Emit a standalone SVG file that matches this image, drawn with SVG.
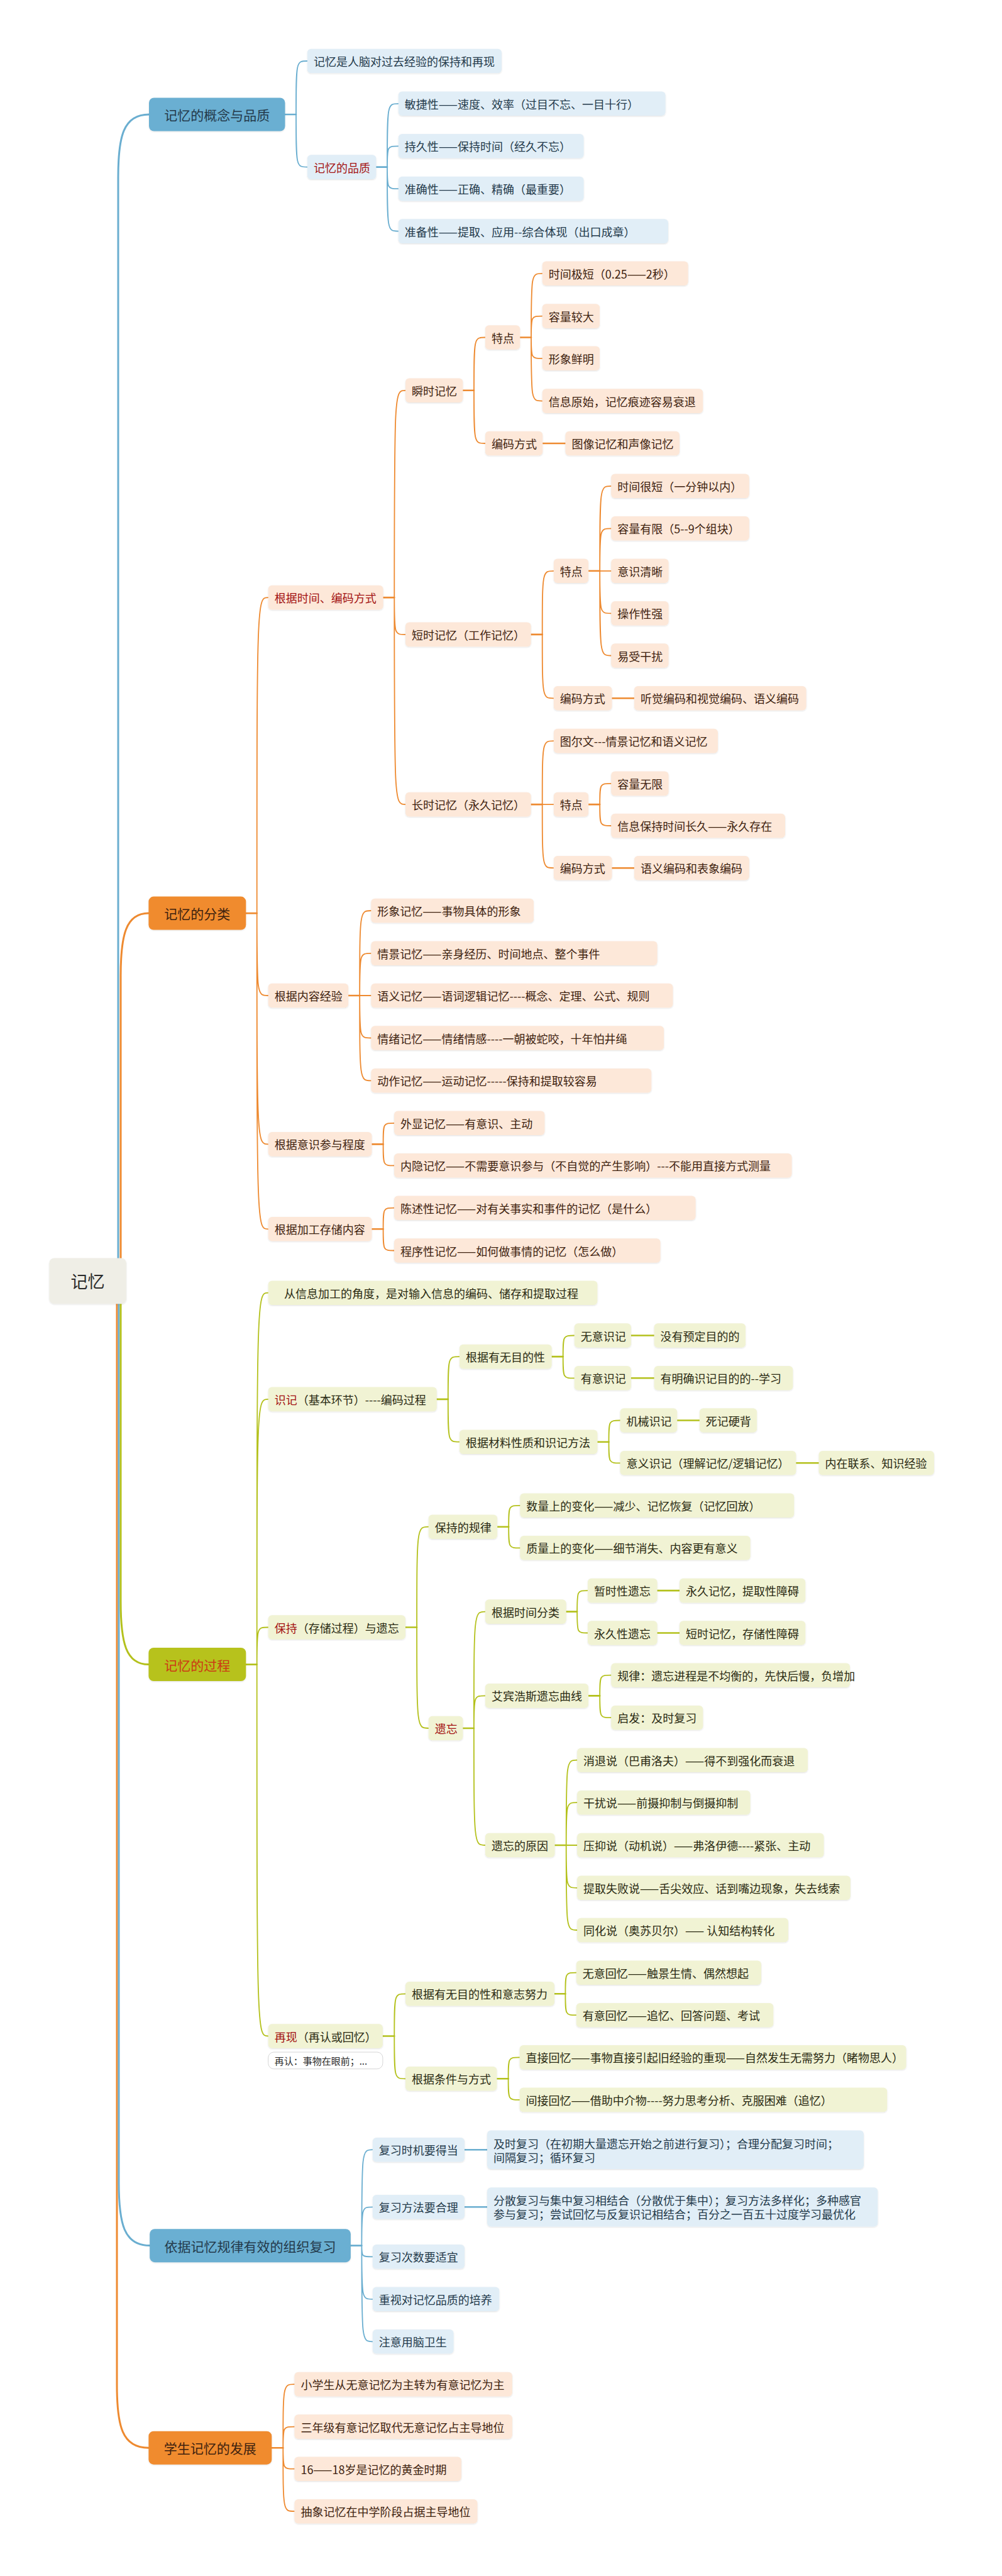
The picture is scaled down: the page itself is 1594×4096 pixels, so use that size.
<svg xmlns="http://www.w3.org/2000/svg" width="1594" height="4096" viewBox="0 0 1594 4096">
<defs>
<filter id="sh" x="-5%" y="-20%" width="110%" height="160%"><feDropShadow dx="0" dy="1" stdDeviation="0.8" flood-color="#000" flood-opacity="0.12"/></filter>
<style>
.t{font-family:"Noto Sans CJK SC","Noto Sans",sans-serif;font-size:18px;dominant-baseline:central}
.m{font-size:21px;text-anchor:middle}
.tb{fill:#243a4b}.to{fill:#3e220f}.tg{fill:#2a2a12}.red{fill:#a31212}
.fb,.fo,.fg,.mb,.mo,.mg,.rt{filter:url(#sh)}
.fb{fill:#e1eef7}.fo{fill:#fde8d9}.fg{fill:#f1f3d4}
.mb{fill:#6aafd2}.mo{fill:#f08b2e}.mg{fill:#b7c21e}.rt{fill:#efeee6}
path{fill:none;stroke-linecap:round}
.cb{stroke:#6aaed0}.co{stroke:#ee8a30}.cg{stroke:#b4c11c}
.s{stroke-width:2.6}.k{stroke-width:1.8}.r{stroke-width:3}
</style>
</defs>
<rect width="1594" height="4096" fill="#ffffff"/>
<g id="connectors">
<path class="cb r" d="M188 2037 L188 282 C188 217 196 182 237 182"/>
<path class="co r" d="M192 2037 L192 1552.1 C192 1487.1 200 1452.1 236.4 1452.1"/>
<path class="co r" d="M186 2037 L186 3792.2 C186 3857.2 194 3892.2 236.4 3892.2"/>
<path class="cb r" d="M189 2037 L189 3470.6 C189 3535.6 197 3570.6 238.2 3570.6"/>
<path class="cg r" d="M192 2037 L192 2546.6 C192 2611.6 200 2646.6 236.4 2646.6"/>
<path class="cb s" d="M453.5 182H471"/>
<path class="cb k" d="M471 182C471 97 471 97 488.9 97M471 182C471 265.6 471 265.6 488.9 265.6"/>
<path class="cb s" d="M598.4 265.6H616"/>
<path class="cb k" d="M616 265.6C616 164.8 616 164.8 633.8 164.8M616 265.6C616 232.3 616 232.3 633.8 232.3M616 265.6C616 300.1 616 300.1 633.8 300.1M616 265.6C616 367.6 616 367.6 633.8 367.6"/>
<path class="co s" d="M391.3 1452.1H408.7"/>
<path class="co k" d="M408.7 1452.1C408.7 950.1 408.7 950.1 426.7 950.1M408.7 1452.1C408.7 1583 408.7 1583 426.7 1583M408.7 1452.1C408.7 1819.4 408.7 1819.4 426.7 1819.4M408.7 1452.1C408.7 1954.3 408.7 1954.3 426.7 1954.3"/>
<path class="co s" d="M609.6 950.1H627.3"/>
<path class="co k" d="M627.3 950.1C627.3 620.8 627.3 620.8 645 620.8M627.3 950.1C627.3 1008.9 627.3 1008.9 645 1008.9M627.3 950.1C627.3 1279.1 627.3 1279.1 645 1279.1"/>
<path class="co s" d="M736.4 620.8H754"/>
<path class="co k" d="M754 620.8C754 536.5 754 536.5 771.9 536.5M754 620.8C754 705 754 705 771.9 705"/>
<path class="co s" d="M827.3 536.5H845"/>
<path class="co k" d="M845 536.5C845 434.8 845 434.8 862.7 434.8M845 536.5C845 502.6 845 502.6 862.7 502.6M845 536.5C845 569.8 845 569.8 862.7 569.8M845 536.5C845 637.6 845 637.6 862.7 637.6"/>
<path class="co s" d="M863.3 705H899.4"/>
<path class="co s" d="M844.7 1008.9H862.7"/>
<path class="co k" d="M862.7 1008.9C862.7 907.8 862.7 907.8 880.8 907.8M862.7 1008.9C862.7 1110.3 862.7 1110.3 880.8 1110.3"/>
<path class="co s" d="M936.2 907.8H954.2"/>
<path class="co k" d="M954.2 907.8C954.2 772.8 954.2 772.8 972.2 772.8M954.2 907.8C954.2 840.3 954.2 840.3 972.2 840.3M954.2 907.8H972.2M954.2 907.8C954.2 975.3 954.2 975.3 972.2 975.3M954.2 907.8C954.2 1042.5 954.2 1042.5 972.2 1042.5"/>
<path class="co s" d="M973.5 1110.3H1008.9"/>
<path class="co s" d="M844.7 1279.1H862.7"/>
<path class="co k" d="M862.7 1279.1C862.7 1178.1 862.7 1178.1 880.8 1178.1M862.7 1279.1H880.8M862.7 1279.1C862.7 1380.2 862.7 1380.2 880.8 1380.2"/>
<path class="co s" d="M936.2 1279.1H954.2"/>
<path class="co k" d="M954.2 1279.1C954.2 1245.9 954.2 1245.9 972.2 1245.9M954.2 1279.1C954.2 1313 954.2 1313 972.2 1313"/>
<path class="co s" d="M973.5 1380.2H1008.9"/>
<path class="co s" d="M554.2 1583H572.2"/>
<path class="co k" d="M572.2 1583C572.2 1448 572.2 1448 590.3 1448M572.2 1583C572.2 1515.8 572.2 1515.8 590.3 1515.8M572.2 1583H590.3M572.2 1583C572.2 1650.5 572.2 1650.5 590.3 1650.5M572.2 1583C572.2 1718.3 572.2 1718.3 590.3 1718.3"/>
<path class="co s" d="M591.5 1819.4H609.6"/>
<path class="co k" d="M609.6 1819.4C609.6 1785.8 609.6 1785.8 627 1785.8M609.6 1819.4C609.6 1853.3 609.6 1853.3 627 1853.3"/>
<path class="co s" d="M591.5 1954.3H609.6"/>
<path class="co k" d="M609.6 1954.3C609.6 1920.7 609.6 1920.7 627 1920.7M609.6 1954.3C609.6 1988.5 609.6 1988.5 627 1988.5"/>
<path class="cg s" d="M391.3 2646.6H408.7"/>
<path class="cg k" d="M408.7 2646.6C408.7 2055.7 408.7 2055.7 426.7 2055.7M408.7 2646.6C408.7 2224.9 408.7 2224.9 426.7 2224.9M408.7 2646.6C408.7 2587.5 408.7 2587.5 426.7 2587.5M408.7 2646.6C408.7 3237.5 408.7 3237.5 426.7 3237.5"/>
<path class="cg s" d="M694.8 2224.9H712.8"/>
<path class="cg k" d="M712.8 2224.9C712.8 2157.1 712.8 2157.1 730.9 2157.1M712.8 2224.9C712.8 2292.7 712.8 2292.7 730.9 2292.7"/>
<path class="cg s" d="M877.7 2157.1H895.7"/>
<path class="cg k" d="M895.7 2157.1C895.7 2123.5 895.7 2123.5 913.7 2123.5M895.7 2157.1C895.7 2191.3 895.7 2191.3 913.7 2191.3"/>
<path class="cg s" d="M1003.9 2123.5H1040.6M1003.9 2191.3H1040.6"/>
<path class="cg s" d="M950.5 2292.7H968.5"/>
<path class="cg k" d="M968.5 2292.7C968.5 2258.5 968.5 2258.5 986.5 2258.5M968.5 2292.7C968.5 2326.3 968.5 2326.3 986.5 2326.3"/>
<path class="cg s" d="M1077.3 2258.5H1112.8M1266.4 2326.3H1302.5"/>
<path class="cg s" d="M645 2587.5H663.1"/>
<path class="cg k" d="M663.1 2587.5C663.1 2427.7 663.1 2427.7 681.7 2427.7M663.1 2587.5C663.1 2748 663.1 2748 681.7 2748"/>
<path class="cg s" d="M791.2 2427.7H809.2"/>
<path class="cg k" d="M809.2 2427.7C809.2 2393.8 809.2 2393.8 827.3 2393.8M809.2 2427.7C809.2 2461.3 809.2 2461.3 827.3 2461.3"/>
<path class="cg s" d="M736.4 2748H753.9"/>
<path class="cg k" d="M753.9 2748C753.9 2562.6 753.9 2562.6 771.9 2562.6M753.9 2748C753.9 2696.4 753.9 2696.4 771.9 2696.4M753.9 2748C753.9 2934 753.9 2934 771.9 2934"/>
<path class="cg s" d="M900.7 2562.6H918.1"/>
<path class="cg k" d="M918.1 2562.6C918.1 2529.1 918.1 2529.1 934.9 2529.1M918.1 2562.6C918.1 2596.5 918.1 2596.5 934.9 2596.5"/>
<path class="cg s" d="M1045.6 2529.1H1081M1045.6 2596.5H1081"/>
<path class="cg s" d="M936.1 2696.4H954.2"/>
<path class="cg k" d="M954.2 2696.4C954.2 2663.7 954.2 2663.7 972.2 2663.7M954.2 2696.4C954.2 2731.2 954.2 2731.2 972.2 2731.2"/>
<path class="cg s" d="M882.6 2934H900.7"/>
<path class="cg k" d="M900.7 2934C900.7 2798.7 900.7 2798.7 918.1 2798.7M900.7 2934C900.7 2866.2 900.7 2866.2 918.1 2866.2M900.7 2934H918.1M900.7 2934C900.7 3001.8 900.7 3001.8 918.1 3001.8M900.7 2934C900.7 3069 900.7 3069 918.1 3069"/>
<path class="cg s" d="M608.9 3237.5H627.3"/>
<path class="cg k" d="M627.3 3237.5C627.3 3170.3 627.3 3170.3 645 3170.3M627.3 3237.5C627.3 3305.3 627.3 3305.3 645 3305.3"/>
<path class="cg s" d="M882 3170.3H899.4"/>
<path class="cg k" d="M899.4 3170.3C899.4 3136.7 899.4 3136.7 916.8 3136.7M899.4 3170.3C899.4 3204.2 899.4 3204.2 916.8 3204.2"/>
<path class="cg s" d="M790.5 3305.3H808.6"/>
<path class="cg k" d="M808.6 3305.3C808.6 3271.4 808.6 3271.4 826.6 3271.4M808.6 3305.3C808.6 3338.9 808.6 3338.9 826.6 3338.9"/>
<path class="cb s" d="M557.9 3570.6H575.4"/>
<path class="cb k" d="M575.4 3570.6C575.4 3418.2 575.4 3418.2 592.8 3418.2M575.4 3570.6C575.4 3509.3 575.4 3509.3 592.8 3509.3M575.4 3570.6C575.4 3588.3 575.4 3588.3 592.8 3588.3M575.4 3570.6C575.4 3655.8 575.4 3655.8 592.8 3655.8M575.4 3570.6C575.4 3723.3 575.4 3723.3 592.8 3723.3"/>
<path class="cb s" d="M739 3418.2H775M739 3509.3H775"/>
<path class="co s" d="M432.3 3892.2H450.3"/>
<path class="co k" d="M450.3 3892.2C450.3 3791.1 450.3 3791.1 468.4 3791.1M450.3 3892.2C450.3 3858.6 450.3 3858.6 468.4 3858.6M450.3 3892.2C450.3 3925.7 450.3 3925.7 468.4 3925.7M450.3 3892.2C450.3 3993.2 450.3 3993.2 468.4 3993.2"/>
</g>
<g id="root"><rect class="rt" x="78.4" y="2000.4" width="122.5" height="72.8" rx="8"/><text class="t m" x="139.6" y="2036.8" style="font-size:27px" fill="#2b2b2b">记忆</text></g>
<g id="b1"><rect class="mb" x="237" y="155.5" width="216.5" height="53" rx="8"/><text class="t m tb" x="345.2" y="182">记忆的概念与品质</text></g>
<g id="n1"><rect class="fb" x="488.9" y="77.7" width="309.1" height="38.6" rx="6"/><text class="t tb" x="498.9" y="97">记忆是人脑对过去经验的保持和再现</text></g>
<g id="n2"><rect class="fb" x="488.9" y="246.3" width="109.5" height="38.6" rx="6"/><text class="t red" x="498.9" y="265.6">记忆的品质</text></g>
<g id="n3"><rect class="fb" x="633.8" y="145.5" width="424.8" height="38.6" rx="6"/><text class="t tb" x="643.8" y="164.8">敏捷性——速度、效率（过目不忘、一目十行）</text></g>
<g id="n4"><rect class="fb" x="633.8" y="213" width="294.8" height="38.6" rx="6"/><text class="t tb" x="643.8" y="232.3">持久性——保持时间（经久不忘）</text></g>
<g id="n5"><rect class="fb" x="633.8" y="280.8" width="294.8" height="38.6" rx="6"/><text class="t tb" x="643.8" y="300.1">准确性——正确、精确（最重要）</text></g>
<g id="n6"><rect class="fb" x="633.8" y="348.3" width="429.2" height="38.6" rx="6"/><text class="t tb" x="643.8" y="367.6">准备性——提取、应用--综合体现（出口成章）</text></g>
<g id="o2"><rect class="mo" x="236.4" y="1425.6" width="154.9" height="53" rx="8"/><text class="t m to" x="313.8" y="1452.1">记忆的分类</text></g>
<g id="n7"><rect class="fo" x="426.7" y="930.8" width="182.9" height="38.6" rx="6"/><text class="t red" x="436.7" y="950.1">根据时间、编码方式</text></g>
<g id="n8"><rect class="fo" x="645" y="601.5" width="91.4" height="38.6" rx="6"/><text class="t to" x="655" y="620.8">瞬时记忆</text></g>
<g id="n9"><rect class="fo" x="771.9" y="517.2" width="55.4" height="38.6" rx="6"/><text class="t to" x="781.9" y="536.5">特点</text></g>
<g id="n10"><rect class="fo" x="862.7" y="415.5" width="232" height="38.6" rx="6"/><text class="t to" x="872.7" y="434.8">时间极短（0.25——2秒）</text></g>
<g id="n11"><rect class="fo" x="862.7" y="483.3" width="91.4" height="38.6" rx="6"/><text class="t to" x="872.7" y="502.6">容量较大</text></g>
<g id="n12"><rect class="fo" x="862.7" y="550.5" width="91.4" height="38.6" rx="6"/><text class="t to" x="872.7" y="569.8">形象鲜明</text></g>
<g id="n13"><rect class="fo" x="862.7" y="618.3" width="255.6" height="38.6" rx="6"/><text class="t to" x="872.7" y="637.6">信息原始，记忆痕迹容易衰退</text></g>
<g id="n14"><rect class="fo" x="771.9" y="685.7" width="91.4" height="38.6" rx="6"/><text class="t to" x="781.9" y="705">编码方式</text></g>
<g id="n15"><rect class="fo" x="899.4" y="685.7" width="181.6" height="38.6" rx="6"/><text class="t to" x="909.4" y="705">图像记忆和声像记忆</text></g>
<g id="n16"><rect class="fo" x="645" y="989.6" width="199.7" height="38.6" rx="6"/><text class="t to" x="655" y="1008.9">短时记忆（工作记忆）</text></g>
<g id="n17"><rect class="fo" x="880.8" y="888.5" width="55.4" height="38.6" rx="6"/><text class="t to" x="890.8" y="907.8">特点</text></g>
<g id="n18"><rect class="fo" x="972.2" y="753.5" width="219.6" height="38.6" rx="6"/><text class="t to" x="982.2" y="772.8">时间很短（一分钟以内）</text></g>
<g id="n19"><rect class="fo" x="972.2" y="821" width="219.6" height="38.6" rx="6"/><text class="t to" x="982.2" y="840.3">容量有限（5--9个组块）</text></g>
<g id="n20"><rect class="fo" x="972.2" y="888.5" width="91.4" height="38.6" rx="6"/><text class="t to" x="982.2" y="907.8">意识清晰</text></g>
<g id="n21"><rect class="fo" x="972.2" y="956" width="91.4" height="38.6" rx="6"/><text class="t to" x="982.2" y="975.3">操作性强</text></g>
<g id="n22"><rect class="fo" x="972.2" y="1023.2" width="91.4" height="38.6" rx="6"/><text class="t to" x="982.2" y="1042.5">易受干扰</text></g>
<g id="n23"><rect class="fo" x="880.8" y="1091" width="92.7" height="38.6" rx="6"/><text class="t to" x="890.8" y="1110.3">编码方式</text></g>
<g id="n24"><rect class="fo" x="1008.9" y="1091" width="273.7" height="38.6" rx="6"/><text class="t to" x="1018.9" y="1110.3">听觉编码和视觉编码、语义编码</text></g>
<g id="n25"><rect class="fo" x="645" y="1259.8" width="199.7" height="38.6" rx="6"/><text class="t to" x="655" y="1279.1">长时记忆（永久记忆）</text></g>
<g id="n26"><rect class="fo" x="880.8" y="1158.8" width="261.2" height="38.6" rx="6"/><text class="t to" x="890.8" y="1178.1">图尔文---情景记忆和语义记忆</text></g>
<g id="n27"><rect class="fo" x="880.8" y="1259.8" width="55.4" height="38.6" rx="6"/><text class="t to" x="890.8" y="1279.1">特点</text></g>
<g id="n28"><rect class="fo" x="972.2" y="1226.6" width="91.4" height="38.6" rx="6"/><text class="t to" x="982.2" y="1245.9">容量无限</text></g>
<g id="n29"><rect class="fo" x="972.2" y="1293.7" width="276.8" height="38.6" rx="6"/><text class="t to" x="982.2" y="1313">信息保持时间长久——永久存在</text></g>
<g id="n30"><rect class="fo" x="880.8" y="1360.9" width="92.7" height="38.6" rx="6"/><text class="t to" x="890.8" y="1380.2">编码方式</text></g>
<g id="n31"><rect class="fo" x="1008.9" y="1360.9" width="182.9" height="38.6" rx="6"/><text class="t to" x="1018.9" y="1380.2">语义编码和表象编码</text></g>
<g id="n32"><rect class="fo" x="426.7" y="1563.7" width="127.5" height="38.6" rx="6"/><text class="t to" x="436.7" y="1583">根据内容经验</text></g>
<g id="n33"><rect class="fo" x="590.3" y="1428.7" width="258.8" height="38.6" rx="6"/><text class="t to" x="600.3" y="1448">形象记忆——事物具体的形象</text></g>
<g id="n34"><rect class="fo" x="590.3" y="1496.5" width="455.3" height="38.6" rx="6"/><text class="t to" x="600.3" y="1515.8">情景记忆——亲身经历、时间地点、整个事件</text></g>
<g id="n35"><rect class="fo" x="590.3" y="1563.7" width="480.2" height="38.6" rx="6"/><text class="t to" x="600.3" y="1583">语义记忆——语词逻辑记忆----概念、定理、公式、规则</text></g>
<g id="n36"><rect class="fo" x="590.3" y="1631.2" width="465.9" height="38.6" rx="6"/><text class="t to" x="600.3" y="1650.5">情绪记忆——情绪情感----一朝被蛇咬，十年怕井绳</text></g>
<g id="n37"><rect class="fo" x="590.3" y="1699" width="446" height="38.6" rx="6"/><text class="t to" x="600.3" y="1718.3">动作记忆——运动记忆-----保持和提取较容易</text></g>
<g id="n38"><rect class="fo" x="426.7" y="1800.1" width="164.8" height="38.6" rx="6"/><text class="t to" x="436.7" y="1819.4">根据意识参与程度</text></g>
<g id="n39"><rect class="fo" x="627" y="1766.5" width="239.5" height="38.6" rx="6"/><text class="t to" x="637" y="1785.8">外显记忆——有意识、主动</text></g>
<g id="n40"><rect class="fo" x="627" y="1834" width="632.6" height="38.6" rx="6"/><text class="t to" x="637" y="1853.3">内隐记忆——不需要意识参与（不自觉的产生影响）---不能用直接方式测量</text></g>
<g id="n41"><rect class="fo" x="426.7" y="1935" width="164.8" height="38.6" rx="6"/><text class="t to" x="436.7" y="1954.3">根据加工存储内容</text></g>
<g id="n42"><rect class="fo" x="627" y="1901.4" width="479.6" height="38.6" rx="6"/><text class="t to" x="637" y="1920.7">陈述性记忆——对有关事实和事件的记忆（是什么）</text></g>
<g id="n43"><rect class="fo" x="627" y="1969.2" width="423.6" height="38.6" rx="6"/><text class="t to" x="637" y="1988.5">程序性记忆——如何做事情的记忆（怎么做）</text></g>
<g id="g3"><rect class="mg" x="236.4" y="2620" width="154.9" height="53" rx="8"/><text class="t m" x="313.8" y="2646.6" fill="#cc3a14">记忆的过程</text></g>
<g id="n44"><rect class="fg" x="426.7" y="2036.4" width="523.7" height="38.6" rx="6"/><text class="t tg" x="452" y="2055.7">从信息加工的角度，是对输入信息的编码、储存和提取过程</text></g>
<g id="n45"><rect class="fg" x="426.7" y="2205.6" width="268.1" height="38.6" rx="6"/><text class="t tg" x="436.7" y="2224.9"><tspan class="red">识记</tspan>（基本环节）----编码过程</text></g>
<g id="n46"><rect class="fg" x="730.9" y="2137.8" width="146.8" height="38.6" rx="6"/><text class="t tg" x="740.9" y="2157.1">根据有无目的性</text></g>
<g id="n47"><rect class="fg" x="913.7" y="2104.2" width="90.2" height="38.6" rx="6"/><text class="t tg" x="923.7" y="2123.5">无意识记</text></g>
<g id="n48"><rect class="fg" x="1040.6" y="2104.2" width="145.5" height="38.6" rx="6"/><text class="t tg" x="1050.6" y="2123.5">没有预定目的的</text></g>
<g id="n49"><rect class="fg" x="913.7" y="2172" width="90.2" height="38.6" rx="6"/><text class="t tg" x="923.7" y="2191.3">有意识记</text></g>
<g id="n50"><rect class="fg" x="1040.6" y="2172" width="220.8" height="38.6" rx="6"/><text class="t tg" x="1050.6" y="2191.3">有明确识记目的的--学习</text></g>
<g id="n51"><rect class="fg" x="730.9" y="2273.4" width="219.6" height="38.6" rx="6"/><text class="t tg" x="740.9" y="2292.7">根据材料性质和识记方法</text></g>
<g id="n52"><rect class="fg" x="986.5" y="2239.2" width="90.8" height="38.6" rx="6"/><text class="t tg" x="996.5" y="2258.5">机械识记</text></g>
<g id="n53"><rect class="fg" x="1112.8" y="2239.2" width="91.4" height="38.6" rx="6"/><text class="t tg" x="1122.8" y="2258.5">死记硬背</text></g>
<g id="n54"><rect class="fg" x="986.5" y="2307" width="279.9" height="38.6" rx="6"/><text class="t tg" x="996.5" y="2326.3">意义识记（理解记忆/逻辑记忆）</text></g>
<g id="n55"><rect class="fg" x="1302.5" y="2307" width="183.5" height="38.6" rx="6"/><text class="t tg" x="1312.5" y="2326.3">内在联系、知识经验</text></g>
<g id="n56"><rect class="fg" x="426.7" y="2568.2" width="218.3" height="38.6" rx="6"/><text class="t tg" x="436.7" y="2587.5"><tspan class="red">保持</tspan>（存储过程）与遗忘</text></g>
<g id="n57"><rect class="fg" x="681.7" y="2408.4" width="109.5" height="38.6" rx="6"/><text class="t tg" x="691.7" y="2427.7">保持的规律</text></g>
<g id="n58"><rect class="fg" x="827.3" y="2374.5" width="436" height="38.6" rx="6"/><text class="t tg" x="837.3" y="2393.8">数量上的变化——减少、记忆恢复（记忆回放）</text></g>
<g id="n59"><rect class="fg" x="827.3" y="2442" width="366.4" height="38.6" rx="6"/><text class="t tg" x="837.3" y="2461.3">质量上的变化——细节消失、内容更有意义</text></g>
<g id="n60"><rect class="fg" x="681.7" y="2728.7" width="54.7" height="38.6" rx="6"/><text class="t red" x="691.7" y="2748">遗忘</text></g>
<g id="n61"><rect class="fg" x="771.9" y="2543.3" width="128.8" height="38.6" rx="6"/><text class="t tg" x="781.9" y="2562.6">根据时间分类</text></g>
<g id="n62"><rect class="fg" x="934.9" y="2509.8" width="110.7" height="38.6" rx="6"/><text class="t tg" x="944.9" y="2529.1">暂时性遗忘</text></g>
<g id="n63"><rect class="fg" x="1081" y="2509.8" width="200.3" height="38.6" rx="6"/><text class="t tg" x="1091" y="2529.1">永久记忆，提取性障碍</text></g>
<g id="n64"><rect class="fg" x="934.9" y="2577.2" width="110.7" height="38.6" rx="6"/><text class="t tg" x="944.9" y="2596.5">永久性遗忘</text></g>
<g id="n65"><rect class="fg" x="1081" y="2577.2" width="200.3" height="38.6" rx="6"/><text class="t tg" x="1091" y="2596.5">短时记忆，存储性障碍</text></g>
<g id="n66"><rect class="fg" x="771.9" y="2677.1" width="164.2" height="38.6" rx="6"/><text class="t tg" x="781.9" y="2696.4">艾宾浩斯遗忘曲线</text></g>
<g id="n67"><rect class="fg" x="972.2" y="2644.4" width="380" height="38.6" rx="6"/><text class="t tg" x="982.2" y="2663.7">规律：遗忘进程是不均衡的，先快后慢，负增加</text></g>
<g id="n68"><rect class="fg" x="972.2" y="2711.9" width="146.2" height="38.6" rx="6"/><text class="t tg" x="982.2" y="2731.2">启发：及时复习</text></g>
<g id="n69"><rect class="fg" x="771.9" y="2914.7" width="110.7" height="38.6" rx="6"/><text class="t tg" x="781.9" y="2934">遗忘的原因</text></g>
<g id="n70"><rect class="fg" x="918.1" y="2779.4" width="367" height="38.6" rx="6"/><text class="t tg" x="928.1" y="2798.7">消退说（巴甫洛夫）——得不到强化而衰退</text></g>
<g id="n71"><rect class="fg" x="918.1" y="2846.9" width="275.5" height="38.6" rx="6"/><text class="t tg" x="928.1" y="2866.2">干扰说——前摄抑制与倒摄抑制</text></g>
<g id="n72"><rect class="fg" x="918.1" y="2914.7" width="392.5" height="38.6" rx="6"/><text class="t tg" x="928.1" y="2934">压抑说（动机说）——弗洛伊德----紧张、主动</text></g>
<g id="n73"><rect class="fg" x="918.1" y="2982.5" width="434.8" height="38.6" rx="6"/><text class="t tg" x="928.1" y="3001.8">提取失败说——舌尖效应、话到嘴边现象，失去线索</text></g>
<g id="n74"><rect class="fg" x="918.1" y="3049.7" width="335.9" height="38.6" rx="6"/><text class="t tg" x="928.1" y="3069">同化说（奥苏贝尔）—— 认知结构转化</text></g>
<g id="n75"><rect class="fg" x="426.7" y="3218.2" width="182.2" height="38.6" rx="6"/><text class="t tg" x="436.7" y="3237.5"><tspan class="red">再现</tspan>（再认或回忆）</text></g>
<g id="n76"><rect x="426.7" y="3263" width="182.2" height="26.7" rx="9" fill="#ffffff" stroke="#d6d6d6" stroke-width="1"/><text class="t" x="436.7" y="3276.4" style="font-size:15px" fill="#2a2a2a">再认：事物在眼前；...</text></g>
<g id="n77"><rect class="fg" x="645" y="3151" width="237" height="38.6" rx="6"/><text class="t tg" x="655" y="3170.3">根据有无目的性和意志努力</text></g>
<g id="n78"><rect class="fg" x="916.8" y="3117.4" width="294.2" height="38.6" rx="6"/><text class="t tg" x="926.8" y="3136.7">无意回忆——触景生情、偶然想起</text></g>
<g id="n79"><rect class="fg" x="916.8" y="3184.9" width="313.5" height="38.6" rx="6"/><text class="t tg" x="926.8" y="3204.2">有意回忆——追忆、回答问题、考试</text></g>
<g id="n80"><rect class="fg" x="645" y="3286" width="145.5" height="38.6" rx="6"/><text class="t tg" x="655" y="3305.3">根据条件与方式</text></g>
<g id="n81"><rect class="fg" x="826.6" y="3252.1" width="615" height="38.6" rx="6"/><text class="t tg" x="836.6" y="3271.4">直接回忆——事物直接引起旧经验的重现——自然发生无需努力（睹物思人）</text></g>
<g id="n82"><rect class="fg" x="826.6" y="3319.6" width="584.7" height="38.6" rx="6"/><text class="t tg" x="836.6" y="3338.9">间接回忆——借助中介物----努力思考分析、克服困难（追忆）</text></g>
<g id="b4"><rect class="mb" x="238.2" y="3544.2" width="319.7" height="53" rx="8"/><text class="t m tb" x="398" y="3570.6">依据记忆规律有效的组织复习</text></g>
<g id="n83"><rect class="fb" x="592.8" y="3398.9" width="146.2" height="38.6" rx="6"/><text class="t tb" x="602.8" y="3418.2">复习时机要得当</text></g>
<g id="n84"><rect class="fb" x="775" y="3387.4" width="599" height="61.6" rx="6"/><text class="t tb" x="785" y="3407.5">及时复习（在初期大量遗忘开始之前进行复习）；合理分配复习时间；</text><text class="t tb" x="785" y="3429.5">间隔复习；循环复习</text></g>
<g id="n85"><rect class="fb" x="592.8" y="3490" width="146.2" height="38.6" rx="6"/><text class="t tb" x="602.8" y="3509.3">复习方法要合理</text></g>
<g id="n86"><rect class="fb" x="775" y="3478.2" width="621.4" height="62.2" rx="6"/><text class="t tb" x="785" y="3498.3">分散复习与集中复习相结合（分散优于集中）；复习方法多样化；多种感官</text><text class="t tb" x="785" y="3520.3">参与复习；尝试回忆与反复识记相结合；百分之一百五十过度学习最优化</text></g>
<g id="n87"><rect class="fb" x="592.8" y="3569" width="146.2" height="38.6" rx="6"/><text class="t tb" x="602.8" y="3588.3">复习次数要适宜</text></g>
<g id="n88"><rect class="fb" x="592.8" y="3636.5" width="201.5" height="38.6" rx="6"/><text class="t tb" x="602.8" y="3655.8">重视对记忆品质的培养</text></g>
<g id="n89"><rect class="fb" x="592.8" y="3704" width="128.8" height="38.6" rx="6"/><text class="t tb" x="602.8" y="3723.3">注意用脑卫生</text></g>
<g id="o5"><rect class="mo" x="236.4" y="3865.7" width="195.9" height="53" rx="8"/><text class="t m to" x="334.3" y="3892.2">学生记忆的发展</text></g>
<g id="n90"><rect class="fo" x="468.4" y="3771.8" width="346.5" height="38.6" rx="6"/><text class="t to" x="478.4" y="3791.1">小学生从无意记忆为主转为有意记忆为主</text></g>
<g id="n91"><rect class="fo" x="468.4" y="3839.3" width="346.5" height="38.6" rx="6"/><text class="t to" x="478.4" y="3858.6">三年级有意记忆取代无意记忆占主导地位</text></g>
<g id="n92"><rect class="fo" x="468.4" y="3906.4" width="265.6" height="38.6" rx="6"/><text class="t to" x="478.4" y="3925.7">16——18岁是记忆的黄金时期</text></g>
<g id="n93"><rect class="fo" x="468.4" y="3973.9" width="291.1" height="38.6" rx="6"/><text class="t to" x="478.4" y="3993.2">抽象记忆在中学阶段占据主导地位</text></g>
</svg>
